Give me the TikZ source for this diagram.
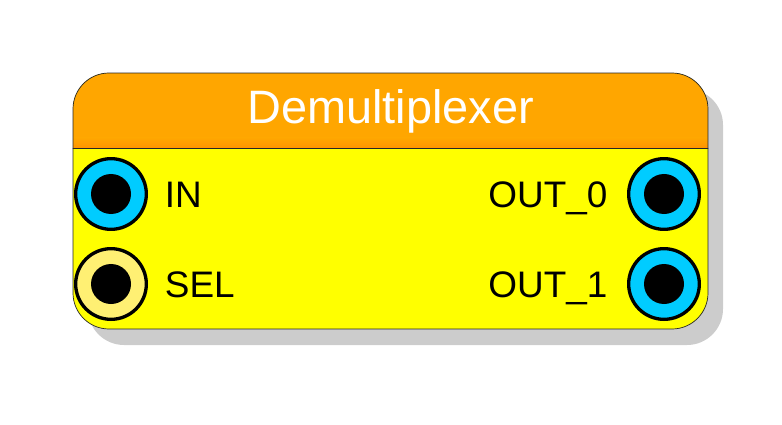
\documentclass[tikz,border=0pt]{standalone}
\usepackage{fontspec}
\setmainfont{Liberation Sans}
\usepackage{tikz}
\usetikzlibrary{positioning}
\definecolor{portblue}{rgb}{0.,0.8,1.}
\definecolor{selyellow}{rgb}{1.,0.94,0.45}
\definecolor{headorange}{rgb}{1.,0.65,0.}
\definecolor{headdark}{rgb}{1.,0.58,0.}
\definecolor{bodyyellow}{rgb}{1.,1.,0.}
\definecolor{shadowgray}{rgb}{0.8,0.8,0.8}
\tikzset{
  port/.style={circle,draw=black,line width=0.1cm,minimum size=2.12cm,inner sep=0pt,
    path picture={\fill[black] (path picture bounding box.center) circle (0.6cm);}},
  portlabel/.style={inner sep=0pt,text height=22.6pt,text depth=0pt,font=\fontsize{31.5}{35}\selectfont}
}

\begin{document}
\begin{tikzpicture}[line cap=round,line join=round,x=0.03cm,y=-0.03cm]
            \useasboundingbox (0.,0.) rectangle (782.,425.);
            \fill [shadowgray,rounded corners=1.08cm] (88.,89.) rectangle (723.,345.);
            \begin{scope}
            \clip [rounded corners=1.08cm] (73.,73.) rectangle (708.,329.);
            \fill [bodyyellow] (73.,73.) rectangle (708.,329.);
            \fill [headorange] (73.,73.) rectangle (708.,138.);
            \shade [top color=headorange,bottom color=headdark] (73.,138.) rectangle (708.,148.);
            \end{scope}
            \draw [line width=0.6pt,color=black!85] (73.,148.) -- (708.,148.);
            \draw [line width=0.6pt,color=black!85,rounded corners=1.08cm] (73.,73.) rectangle (708.,329.);
            \node [text=white,inner sep=0pt,text height=28.6pt,text depth=0pt,font=\fontsize{40}{44}\selectfont] (title) at (390.5,106.5) {Demultiplexer};
            \node [port,fill=portblue] (in) at (111.,194.) {};
            \node [port,fill=selyellow] (sel) at (111.,284.) {};
            \node [port,fill=portblue] (out0) at (664.,194.) {};
            \node [port,fill=portblue] (out1) at (664.,284.) {};
            \node [portlabel,right=0.5cm of in] (inlabel) {IN};
            \node [portlabel,right=0.5cm of sel] (sellabel) {SEL};
            \node [portlabel,left=0.58cm of out0] (out0label) {OUT\_0};
            \node [portlabel,left=0.58cm of out1] (out1label) {OUT\_1};
\end{tikzpicture}
\end{document}
